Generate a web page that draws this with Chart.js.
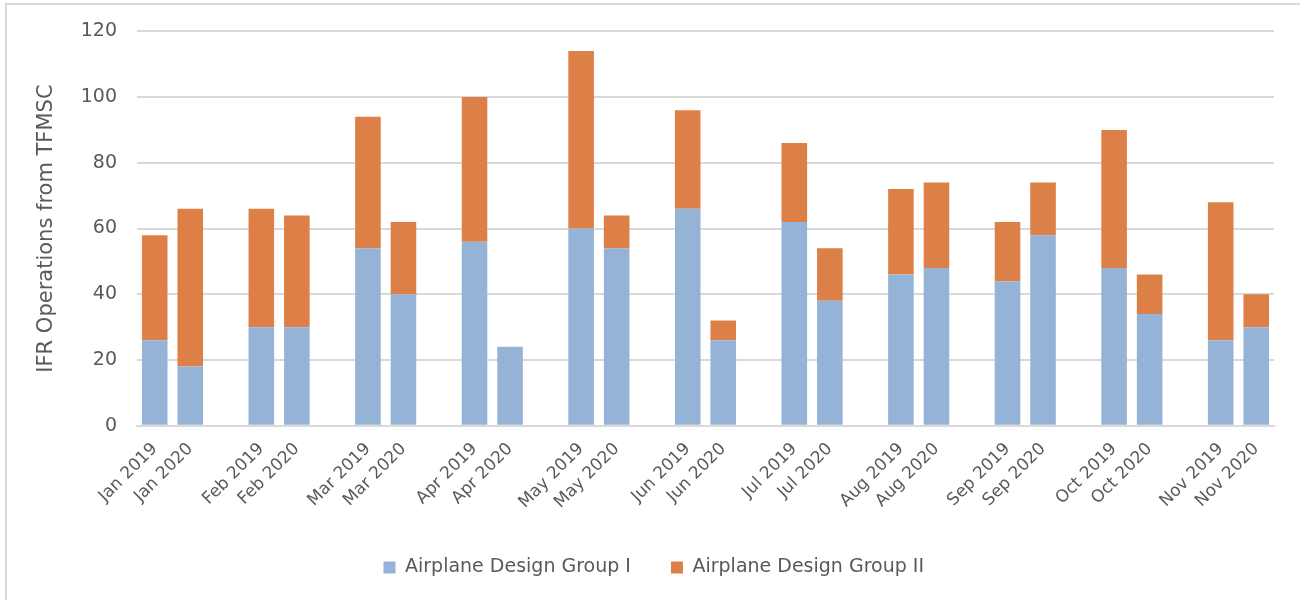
<!DOCTYPE html>
<html>
<head>
<meta charset="utf-8">
<script src="https://cdn.jsdelivr.net/npm/chart.js@4"></script>
<style>
	body {
		margin: 0;
		background: #ffffff;
		overflow: hidden;
	}
	#frame {
		position: absolute;
		left: 5px;
		top: 3px;
		width: 1400px;
		height: 700px;
		border: 2px solid #d9d9d9;
	}
	#wrap {
		position: absolute;
		left: 0;
		top: 0;
		width: 1300px;
		height: 600px;
	}
</style>
</head>
<body>
<div id="frame"></div>
<div id="wrap"><canvas id="ops-canvas"></canvas></div>
<script>
const MONTHS = ["Jan", "Feb", "Mar", "Apr", "May", "Jun", "Jul", "Aug", "Sep", "Oct", "Nov"];
const YEARS = ["2019", "2020"];
const GROUP_I = [
	26, 18, 30, 30, 54, 40, 56, 24, 60, 54, 66,
	26, 62, 38, 46, 48, 44, 58, 48, 34, 26, 30,
];
const GROUP_II = [
	32, 48, 36, 34, 40, 22, 44, 0, 54, 10, 30,
	6, 24, 16, 26, 26, 18, 16, 42, 12, 42, 10,
];
const SERIES_NAMES = ["Airplane Design Group I", "Airplane Design Group II"];
const COLORS = ["#95b3d7", "#dd8047"];
const TEXT_COLOR = "#595959";
const FONT = "DejaVu Sans";

// each month gets a 2019 and a 2020 bar, then an empty slot as a gap
const labels = [];
const dataI = [];
const dataII = [];
MONTHS.forEach((month, m) => {
	YEARS.forEach((year, y) => {
		labels.push(month + " " + year);
		dataI.push(GROUP_I[m * 2 + y]);
		dataII.push(GROUP_II[m * 2 + y]);
	});
	if (m < MONTHS.length - 1) {
		labels.push("");
		dataI.push(null);
		dataII.push(null);
	}
});

const makeSet = (i, values) => ({
	label: SERIES_NAMES[i],
	data: values,
	backgroundColor: COLORS[i],
	borderWidth: 0,
	barPercentage: 0.72,
	categoryPercentage: 1,
});

new Chart(document.getElementById("ops-canvas"), {
	type: "bar",
	data: {
		labels: labels,
		datasets: [makeSet(0, dataI), makeSet(1, dataII)],
	},
	options: {
		responsive: true,
		maintainAspectRatio: false,
		animation: false,
		layout: {
			padding: { left: 33.5, right: 26, top: 30, bottom: 13 },
		},
		scales: {
			x: {
				stacked: true,
				grid: { display: false },
				border: { color: "#d9d9d9", width: 2 },
				ticks: {
					autoSkip: false,
					maxRotation: 45,
					minRotation: 45,
					color: TEXT_COLOR,
					font: { family: FONT, size: 17 },
					padding: 5.3,
				},
			},
			y: {
				stacked: true,
				min: 0,
				max: 120,
				ticks: {
					stepSize: 20,
					color: TEXT_COLOR,
					font: { family: FONT, size: 19 },
					padding: 20,
				},
				grid: {
					color: "#d9d9d9",
					lineWidth: 2,
					drawTicks: false,
				},
				border: { display: false },
				title: {
					display: true,
					text: "IFR Operations from TFMSC",
					color: TEXT_COLOR,
					font: { family: FONT, size: 21 },
					padding: { top: 0, bottom: 2 },
				},
			},
		},
		plugins: {
			legend: {
				position: "bottom",
				labels: {
					boxWidth: 12,
					boxHeight: 12,
					padding: 40,
					color: TEXT_COLOR,
					font: { family: FONT, size: 19 },
				},
			},
			tooltip: { enabled: false },
		},
	},
});
</script>
</body>
</html>
